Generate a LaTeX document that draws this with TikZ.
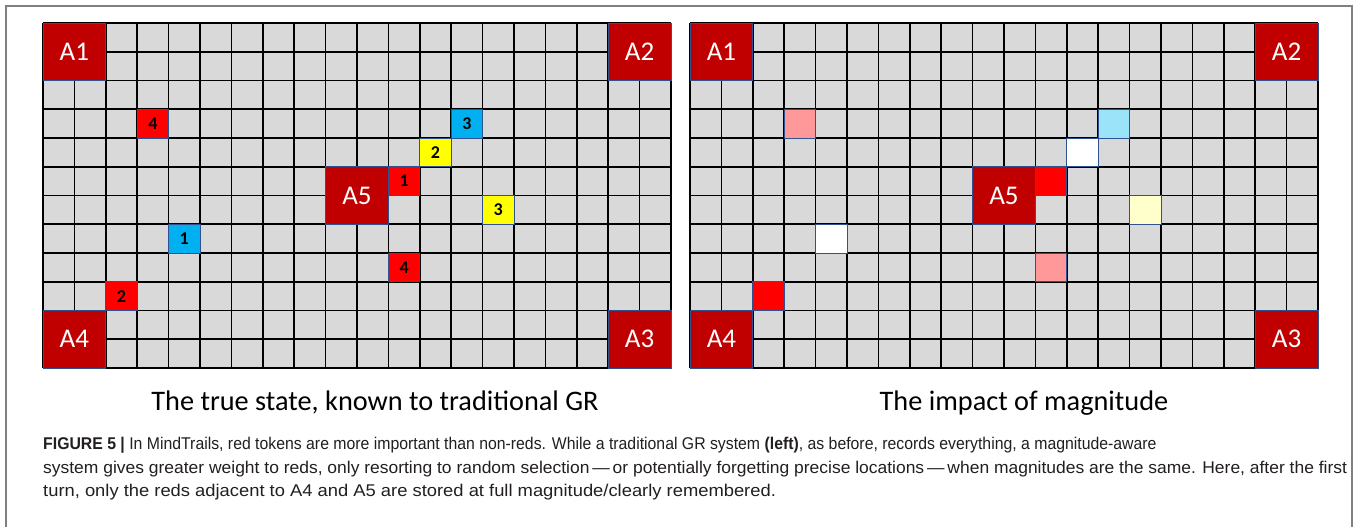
\documentclass[tikz,border=0pt]{standalone}
\usepackage{fontspec}
\setmainfont{Liberation Sans}
\newfontfamily\calib{Carlito}
\definecolor{cellgray}{HTML}{D9D9D9}
\definecolor{adark}{HTML}{C00000}
\definecolor{tokred}{HTML}{FF0000}
\definecolor{tokyellow}{HTML}{FFFF00}
\definecolor{tokblue}{HTML}{00B0F0}
\definecolor{tokpink}{HTML}{FF9999}
\definecolor{toklblue}{HTML}{9BE3F9}
\definecolor{toklyellow}{HTML}{FFFFCC}
\definecolor{tokborder}{HTML}{2F528F}
\definecolor{framegray}{HTML}{808080}
\definecolor{capgray}{HTML}{231F20}
\tikzset{
  gridline/.style={black, line width=1.7pt},
  tok/.style={draw=tokborder, line width=0.8pt, minimum width=31.4pt, minimum height=28.75pt, inner sep=0pt, font=\calib\bfseries\fontsize{18}{18}\selectfont},
  abox/.style={draw=tokborder, line width=0.8pt, fill=adark, text=white, minimum width=62.8pt, minimum height=57.5pt, inner sep=0pt, font=\calib\fontsize{27}{27}\selectfont},
  subtitle/.style={font=\calib\fontsize{28.3}{28.3}\selectfont, anchor=base, inner sep=0pt},
  capline/.style={anchor=base west, inner sep=0pt, font=\fontsize{17}{17}\selectfont, text=capgray},
  frameline/.style={framegray, line width=1.5pt}
}
\begin{document}
\begin{tikzpicture}[x=1pt,y=-1pt]
\useasboundingbox (0,0) rectangle (1356,527);
\fill[white] (0,0) rectangle (1356,527);
\draw[frameline] (6,527) -- (6,6) -- (1352,6) -- (1352,527);

% left grid
\begin{scope}[shift={(43,23)}, x=31.4pt, y=-28.75pt]
  \fill[cellgray] (0,0) rectangle (20,12);
  \foreach \i in {0,...,20} \draw[gridline] (\i,0) -- (\i,12);
  \foreach \j in {0,...,12} \draw[gridline] (0,\j) -- (20,\j);
  \node[tok,fill=tokred]    (L4a) at (3.5,3.5) {4};
  \node[tok,fill=tokblue]   (L3b) at (13.5,3.5) {3};
  \node[tok,fill=tokyellow] (L2y) at (12.5,4.5) {2};
  \node[tok,fill=tokred]    (L1r) at (11.5,5.5) {1};
  \node[tok,fill=tokyellow] (L3y) at (14.5,6.5) {3};
  \node[tok,fill=tokblue]   (L1b) at (4.5,7.5) {1};
  \node[tok,fill=tokred]    (L4r) at (11.5,8.5) {4};
  \node[tok,fill=tokred]    (L2r) at (2.5,9.5) {2};
  \node[abox] (LA1) at (1,1) {A1};
  \node[abox] (LA2) at (19,1) {A2};
  \node[abox] (LA4) at (1,11) {A4};
  \node[abox] (LA3) at (19,11) {A3};
  \node[abox] (LA5) at (10,6) {A5};
\end{scope}

% right grid
\begin{scope}[shift={(690,23)}, x=31.4pt, y=-28.75pt]
  \fill[cellgray] (0,0) rectangle (20,12);
  \foreach \i in {0,...,20} \draw[gridline] (\i,0) -- (\i,12);
  \foreach \j in {0,...,12} \draw[gridline] (0,\j) -- (20,\j);
  \node[tok,fill=tokpink]    (R4a) at (3.5,3.5) {};
  \node[tok,fill=toklblue]   (R3b) at (13.5,3.5) {};
  \node[tok,fill=white]      (R2y) at (12.5,4.5) {};
  \node[tok,fill=tokred]     (R1r) at (11.5,5.5) {};
  \node[tok,fill=toklyellow] (R3y) at (14.5,6.5) {};
  \node[tok,fill=white]      (R1b) at (4.5,7.5) {};
  \node[tok,fill=tokpink]    (R4r) at (11.5,8.5) {};
  \node[tok,fill=tokred]     (R2r) at (2.5,9.5) {};
  \node[abox] (RA1) at (1,1) {A1};
  \node[abox] (RA2) at (19,1) {A2};
  \node[abox] (RA4) at (1,11) {A4};
  \node[abox] (RA3) at (19,11) {A3};
  \node[abox] (RA5) at (10,6) {A5};
\end{scope}

\node[subtitle] (subL) at (375,410) {The true state, known to traditional GR};
\node[subtitle] (subR) at (1024,410) {The impact of magnitude};

\node[capline] (cap1) at (43,449) {\scalebox{0.93}[1]{\textbf{FIGURE 5 |} In MindTrails, red tokens are more important than non-reds. While a traditional GR system \textbf{(left)}, as before, records everything, a magnitude-aware}};
\node[capline] (cap2) at (43,473) {\scalebox{1.027}[1]{system gives greater weight to reds, only resorting to random selection\,---\,or potentially forgetting precise locations\,---\,when magnitudes are the same. Here, after the first}};
\node[capline] (cap3) at (43,496) {\scalebox{1.08}[1]{turn, only the reds adjacent to A4 and A5 are stored at full magnitude/clearly remembered.}};
\end{tikzpicture}
\end{document}
